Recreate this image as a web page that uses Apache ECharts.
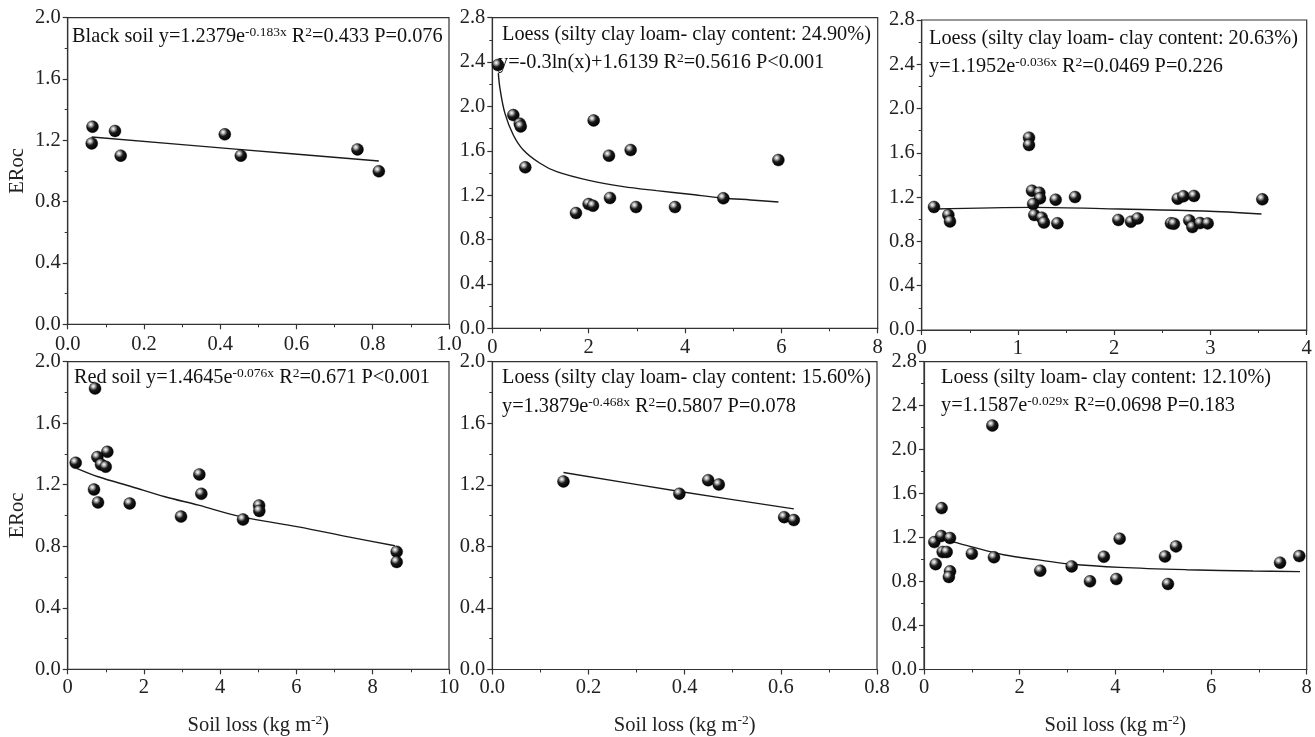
<!DOCTYPE html>
<html>
<head>
<meta charset="utf-8">
<script src="https://cdn.jsdelivr.net/npm/echarts@6/dist/echarts.min.js"></script>
<style>
html,body{margin:0;padding:0;background:#fff;}
#chart{width:1315px;height:737px;}
</style>
</head>
<body>
<div id="chart"></div>
<script>
// ---------- data ----------
// Panel 1: Black soil
const p1X = [0.065, 0.063, 0.124, 0.139, 0.412, 0.454, 0.760, 0.816];
const p1Y = [1.289, 1.180, 1.261, 1.100, 1.239, 1.100, 1.141, 0.998];
const f1X = [0.063, 0.44, 0.816];
const f1Y = [1.222, 1.143, 1.065];

// Panel 2: Loess 24.90%
const p2X = [0.118, 0.436, 0.57, 0.59, 0.685, 2.104, 2.422, 2.872, 5.938, 1.737, 2.0, 2.09, 2.443, 2.983, 3.792, 4.796];
const p2Y = [2.373, 1.922, 1.845, 1.82, 1.451, 1.874, 1.556, 1.607, 1.517, 1.039, 1.120, 1.105, 1.175, 1.093, 1.093, 1.172];
const f2X = [0.125, 0.16, 0.264, 0.436, 0.644, 0.99, 1.337, 2.028, 2.72, 3.41, 4.10, 4.78, 5.36, 5.94];
const f2Y = [2.30, 2.16, 1.935, 1.743, 1.608, 1.488, 1.412, 1.331, 1.277, 1.241, 1.208, 1.175, 1.157, 1.139];

// Panel 3: Loess 20.63%
const p3X = [0.128, 0.277, 0.294, 1.115, 1.115, 1.146, 1.222, 1.229, 1.158, 1.17, 1.247, 1.27, 1.392, 1.41, 1.593, 2.043, 2.175, 2.244, 2.59, 2.62, 2.66, 2.719, 2.829, 2.78, 2.812, 2.892, 2.971, 3.539];
const p3Y = [1.111, 1.039, 0.981, 1.737, 1.671, 1.258, 1.240, 1.189, 1.138, 1.039, 1.015, 0.970, 1.177, 0.964, 1.201, 0.994, 0.978, 1.008, 0.964, 0.960, 1.186, 1.208, 1.211, 0.99, 0.93, 0.966, 0.963, 1.18];
const f3X = [0.138, 1.16, 2.06, 2.93, 3.53];
const f3Y = [1.093, 1.108, 1.093, 1.075, 1.048];

// Panel 4: Red soil
const p4X = [0.21, 0.717, 0.69, 0.778, 0.795, 0.874, 0.997, 1.04, 1.626, 2.972, 3.453, 3.505, 4.598, 5.02, 5.026, 8.628, 8.628];
const p4Y = [1.343, 1.826, 1.169, 1.38, 1.085, 1.332, 1.317, 1.414, 1.078, 0.993, 1.267, 1.141, 0.974, 1.065, 1.03, 0.764, 0.698];
const f4X = [0.236, 0.8, 1.68, 2.55, 3.43, 4.56, 6.05, 7.36, 8.58];
const f4Y = [1.307, 1.252, 1.187, 1.122, 1.067, 0.991, 0.926, 0.861, 0.803];

// Panel 5: Loess 15.60%
const p5X = [0.148, 0.389, 0.449, 0.471, 0.607, 0.627];
const p5Y = [1.222, 1.142, 1.23, 1.202, 0.99, 0.971];
const f5X = [0.148, 0.39, 0.627];
const f5Y = [1.28, 1.157, 1.044];

// Panel 6: Loess 12.10%
const p6X = [0.216, 0.244, 0.369, 0.362, 0.39, 0.474, 0.544, 0.544, 0.52, 1.0, 1.429, 1.463, 2.43, 3.087, 3.47, 3.76, 4.02, 4.09, 5.038, 5.1, 5.268, 7.443, 7.845];
const p6Y = [1.159, 0.958, 1.468, 1.214, 1.069, 1.069, 1.196, 0.893, 0.842, 1.054, 2.219, 1.021, 0.899, 0.938, 0.802, 1.026, 0.823, 1.19, 1.029, 0.778, 1.12, 0.972, 1.032];
const f6X = [0.578, 0.96, 1.66, 2.36, 3.05, 4.10, 5.49, 6.88, 7.86];
const f6Y = [1.165, 1.12, 1.044, 0.999, 0.96, 0.929, 0.908, 0.896, 0.89];

// axis ranges / tick steps
const xMax = [1.0, 8, 4, 10, 0.8, 8];
const xStep = [0.2, 2, 1, 2, 0.2, 2];
const xDec = [1, 0, 0, 0, 1, 0];
const yMax = [2.0, 2.8, 2.8, 2.0, 2.0, 2.8];
const yStep = [0.4, 0.4, 0.4, 0.4, 0.4, 0.4];

// annotation texts
const notes = [
  ['{n|Black soil y=1.2379e}{s|-0.183x}{n| R}{s|2}{n|=0.433 P=0.076}'],
  ['{n|Loess (silty clay loam- clay content: 24.90%)}', '{n|y=-0.3ln(x)+1.6139 R}{s|2}{n|=0.5616 P<0.001}'],
  ['{n|Loess (silty clay loam- clay content: 20.63%)}', '{n|y=1.1952e}{s|-0.036x}{n| R}{s|2}{n|=0.0469 P=0.226}'],
  ['{n|Red soil y=1.4645e}{s|-0.076x}{n| R}{s|2}{n|=0.671 P<0.001}'],
  ['{n|Loess (silty clay loam- clay content: 15.60%)}', '{n|y=1.3879e}{s|-0.468x}{n| R}{s|2}{n|=0.5807 P=0.078}'],
  ['{n|Loess (silty loam- clay content: 12.10%)}', '{n|y=1.1587e}{s|-0.029x}{n| R}{s|2}{n|=0.0698 P=0.183}']
];
const yTitle = 'ERoc';
const xTitle = '{a|Soil loss (kg m}{s|-2}{a|)}';

// ---------- layout ----------
const FONT = 'Liberation Serif, Times New Roman, serif';
const FS = 20.5;
const FN = 20.3;
const grids = [
  {left: 67.7, top: 17.7, right: 1315 - 449, bottom: 737 - 324.3},
  {left: 492.3, top: 17.7, right: 1315 - 877.7, bottom: 737 - 328.3},
  {left: 921.7, top: 20, right: 1315 - 1306.7, bottom: 737 - 330},
  {left: 67.7, top: 361.7, right: 1315 - 449, bottom: 737 - 669.3},
  {left: 492.3, top: 361.7, right: 1315 - 877, bottom: 737 - 670},
  {left: 924, top: 361.7, right: 1315 - 1306.7, bottom: 737 - 670}
];
const xLabelMargin = [10, 9, 8, 8, 8, 8];
const notePos = [
  [[72, 25]],
  [[502, 23], [498, 51]],
  [[929, 27], [929, 55]],
  [[74, 366]],
  [[502, 366], [502, 395]],
  [[941, 366], [941, 394]]
];

const pts = [[p1X, p1Y], [p2X, p2Y], [p3X, p3Y], [p4X, p4Y], [p5X, p5Y], [p6X, p6Y]];
const fits = [[f1X, f1Y], [f2X, f2Y], [f3X, f3Y], [f4X, f4Y], [f5X, f5Y], [f6X, f6Y]];
const zip = (a, b) => a.map((v, i) => [v, b[i]]);

const axisColor = '#333';
const sphere = {
  type: 'radial', x: 0.36, y: 0.32, r: 0.68,
  colorStops: [
    {offset: 0, color: '#ffffff'},
    {offset: 0.18, color: '#bdbdbd'},
    {offset: 0.5, color: '#1a1a1a'},
    {offset: 1, color: '#000000'}
  ]
};

const option = {
  backgroundColor: '#fff',
  animation: false,
  grid: grids.map(g => Object.assign({show: true, borderColor: axisColor, borderWidth: 1.2, backgroundColor: 'transparent'}, g)),
  xAxis: grids.map((g, i) => ({
    type: 'value', gridIndex: i, min: 0, max: xMax[i], interval: xStep[i],
    axisLine: {show: true, lineStyle: {color: axisColor, width: 1.2}},
    axisTick: {show: true, length: 5, lineStyle: {color: axisColor, width: 1.2}},
    minorTick: {show: true, splitNumber: 2, length: 3, lineStyle: {color: axisColor, width: 1}},
    splitLine: {show: false},
    axisLabel: {color: '#222', fontFamily: FONT, fontSize: FS, margin: xLabelMargin[i],
      formatter: v => v.toFixed(xDec[i])},
    name: i >= 3 ? xTitle : '',
    nameLocation: 'middle', nameGap: 44,
    nameTextStyle: {fontFamily: FONT, color: '#222',
      rich: {a: {fontFamily: FONT, fontSize: FS, color: '#222', lineHeight: 24},
             s: {fontFamily: FONT, fontSize: 13.5, color: '#222', verticalAlign: 'top', lineHeight: 14}}}
  })),
  yAxis: grids.map((g, i) => ({
    type: 'value', gridIndex: i, min: 0, max: yMax[i], interval: yStep[i],
    axisLine: {show: true, lineStyle: {color: axisColor, width: 1.2}},
    axisTick: {show: true, length: 5, lineStyle: {color: axisColor, width: 1.2}},
    minorTick: {show: true, splitNumber: 2, length: 3, lineStyle: {color: axisColor, width: 1}},
    splitLine: {show: false},
    axisLabel: {color: '#222', fontFamily: FONT, fontSize: FS, margin: 7,
      formatter: v => v.toFixed(1)},
    name: (i === 0 || i === 3) ? yTitle : '',
    nameLocation: 'middle', nameGap: 40,
    nameTextStyle: {fontFamily: FONT, fontSize: FS, color: '#222'}
  })),
  title: [],
  series: []
};

notes.forEach((lines, i) => {
  lines.forEach((t, j) => {
    option.title.push({
      text: t, left: notePos[i][j][0], top: notePos[i][j][1], padding: 0,
      textStyle: {fontFamily: FONT, fontWeight: 'normal', fontSize: FN, color: '#111',
        rich: {
          n: {fontFamily: FONT, fontSize: FN, color: '#111', lineHeight: 24},
          s: {fontFamily: FONT, fontSize: 13.5, color: '#111', lineHeight: 13, verticalAlign: 'top'}
        }}
    });
  });
});

fits.forEach((f, i) => {
  option.series.push({
    type: 'line', xAxisIndex: i, yAxisIndex: i, data: zip(f[0], f[1]),
    showSymbol: false, smooth: 0.35, z: 2,
    lineStyle: {color: '#1a1a1a', width: 1.4}
  });
});
pts.forEach((p, i) => {
  option.series.push({
    type: 'scatter', xAxisIndex: i, yAxisIndex: i, data: zip(p[0], p[1]),
    symbol: 'circle', symbolSize: 12, z: 3,
    itemStyle: {color: sphere, borderColor: '#000', borderWidth: 0.4, opacity: 1}
  });
});

const chart = echarts.init(document.getElementById('chart'), null, {renderer: 'canvas'});
chart.setOption(option);
</script>
</body>
</html>
